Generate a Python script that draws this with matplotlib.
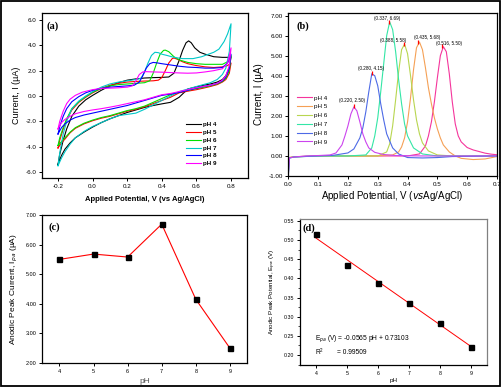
import numpy as np
import matplotlib
matplotlib.use("Agg")
import matplotlib.pyplot as plt
from matplotlib.patches import Rectangle

plt.rcParams['font.family'] = ['Liberation Sans', 'DejaVu Sans']
plt.rcParams['mathtext.fontset'] = 'custom'
plt.rcParams['mathtext.rm'] = 'Liberation Sans'

ph_labels = ["pH 4", "pH 5", "pH 6", "pH 7", "pH 8", "pH 9"]

# ---- (a) cyclic voltammograms: forward scans ----
ph4_fwd_v = [-0.2, -0.19, -0.17, -0.15, -0.12, -0.08, -0.04, 0.0, 0.05, 0.1, 0.15, 0.2, 0.25, 0.3, 0.35, 0.4, 0.44, 0.47, 0.5, 0.52, 0.54, 0.555, 0.57, 0.59, 0.62, 0.65, 0.7, 0.75, 0.78, 0.8]
ph4_fwd_i = [-5.4, -4.6, -3.5, -2.6, -1.6, -0.8, -0.3, 0.05, 0.45, 0.8, 1.05, 1.25, 1.35, 1.42, 1.45, 1.47, 1.5, 1.8, 2.8, 3.6, 4.2, 4.35, 4.2, 3.8, 3.45, 3.3, 3.1, 3.05, 3.05, 3.1]
ph5_fwd_v = [-0.2, -0.19, -0.17, -0.15, -0.12, -0.08, -0.04, 0.0, 0.05, 0.1, 0.15, 0.2, 0.25, 0.3, 0.35, 0.38, 0.4, 0.42, 0.44, 0.46, 0.47, 0.49, 0.52, 0.55, 0.6, 0.65, 0.7, 0.75, 0.78, 0.8]
ph5_fwd_i = [-4.1, -3.5, -2.6, -1.9, -1.1, -0.5, -0.1, 0.25, 0.6, 0.85, 1.0, 1.1, 1.15, 1.18, 1.2, 1.25, 1.45, 2.0, 2.6, 2.95, 3.0, 2.9, 2.7, 2.55, 2.4, 2.3, 2.25, 2.3, 2.4, 2.6]
ph6_fwd_v = [-0.2, -0.19, -0.17, -0.15, -0.12, -0.08, -0.04, 0.0, 0.05, 0.1, 0.15, 0.2, 0.25, 0.3, 0.33, 0.35, 0.37, 0.39, 0.41, 0.42, 0.44, 0.47, 0.5, 0.55, 0.6, 0.65, 0.7, 0.75, 0.78, 0.8]
ph6_fwd_i = [-3.9, -3.3, -2.5, -1.8, -1.0, -0.45, -0.05, 0.3, 0.6, 0.8, 0.9, 0.95, 1.0, 1.05, 1.2, 1.8, 2.6, 3.3, 3.6, 3.62, 3.5, 3.1, 2.85, 2.65, 2.55, 2.5, 2.5, 2.5, 2.7, 3.2]
ph7_fwd_v = [-0.2, -0.19, -0.17, -0.15, -0.12, -0.08, -0.04, 0.0, 0.05, 0.1, 0.15, 0.2, 0.25, 0.28, 0.3, 0.32, 0.34, 0.36, 0.38, 0.4, 0.43, 0.47, 0.52, 0.58, 0.63, 0.67, 0.7, 0.73, 0.76, 0.78, 0.8]
ph7_fwd_i = [-5.5, -4.5, -3.0, -2.0, -1.0, -0.4, 0.0, 0.35, 0.7, 0.95, 1.1, 1.2, 1.3, 1.4, 1.9, 2.6, 3.2, 3.45, 3.42, 3.3, 3.2, 3.05, 2.95, 2.95, 3.1, 3.3, 3.45, 3.7, 4.3, 4.9, 5.7]
ph8_fwd_v = [-0.2, -0.19, -0.17, -0.15, -0.12, -0.08, -0.04, 0.0, 0.05, 0.1, 0.15, 0.2, 0.24, 0.27, 0.29, 0.31, 0.33, 0.35, 0.37, 0.4, 0.45, 0.5, 0.55, 0.6, 0.65, 0.7, 0.75, 0.78, 0.8]
ph8_fwd_i = [-3.0, -2.4, -1.6, -1.0, -0.45, -0.05, 0.25, 0.45, 0.6, 0.7, 0.75, 0.8, 0.85, 1.1, 1.6, 2.2, 2.55, 2.65, 2.62, 2.55, 2.45, 2.35, 2.28, 2.25, 2.2, 2.2, 2.25, 2.6, 3.3]
ph9_fwd_v = [-0.2, -0.19, -0.17, -0.15, -0.13, -0.1, -0.06, 0.0, 0.05, 0.1, 0.15, 0.2, 0.23, 0.25, 0.27, 0.29, 0.31, 0.35, 0.4, 0.45, 0.5, 0.55, 0.6, 0.65, 0.7, 0.75, 0.78, 0.8]
ph9_fwd_i = [-2.6, -2.0, -1.2, -0.6, -0.25, 0.05, 0.3, 0.5, 0.6, 0.62, 0.65, 0.7, 0.8, 1.2, 1.7, 1.9, 1.92, 1.9, 1.88, 1.85, 1.82, 1.8, 1.82, 1.9, 2.0, 2.15, 2.6, 3.8]

# ---- (a) reverse scans on a shared potential grid ----
rev_v = [0.8, 0.79, 0.77, 0.75, 0.72, 0.68, 0.64, 0.6, 0.55, 0.5, 0.45, 0.4, 0.35, 0.3, 0.25, 0.2, 0.15, 0.1, 0.05, 0.0, -0.05, -0.1, -0.13, -0.16, -0.18, -0.2]
ph4_rev_i = [3.1, 2.2, 1.6, 1.3, 1.1, 0.95, 0.85, 0.72, 0.55, -0.1, -0.5, -0.62, -0.75, -0.9, -1.1, -1.3, -1.55, -1.8, -2.1, -2.45, -2.85, -3.3, -3.7, -4.2, -4.7, -5.4]
ph5_rev_i = [2.6, 1.8, 1.3, 1.1, 0.9, 0.75, 0.62, 0.5, 0.38, 0.25, -0.1, -0.35, -0.6, -0.85, -1.05, -1.2, -1.4, -1.6, -1.75, -1.95, -2.2, -2.55, -2.9, -3.4, -3.7, -4.1]
ph6_rev_i = [3.2, 2.0, 1.4, 1.15, 0.95, 0.8, 0.68, 0.58, 0.45, 0.3, 0.1, -0.2, -0.5, -0.8, -1.0, -1.15, -1.35, -1.55, -1.7, -1.9, -2.15, -2.5, -2.85, -3.3, -3.6, -3.9]
ph7_rev_i = [5.7, 3.5, 2.2, 1.7, 1.3, 1.05, 0.9, 0.75, 0.55, 0.35, 0.0, -0.35, -0.7, -1.05, -1.35, -1.45, -1.55, -1.8, -2.1, -2.4, -2.8, -3.3, -3.8, -4.4, -4.9, -5.5]
ph8_rev_i = [3.3, 2.2, 1.5, 1.2, 1.0, 0.85, 0.75, 0.62, 0.45, 0.28, 0.15, 0.05, -0.15, -0.35, -0.55, -0.75, -0.9, -1.05, -1.2, -1.35, -1.5, -1.7, -1.9, -2.2, -2.5, -3.0]
ph9_rev_i = [3.8, 2.4, 1.6, 1.25, 1.0, 0.85, 0.75, 0.65, 0.5, 0.35, 0.2, 0.1, -0.1, -0.3, -0.45, -0.6, -0.75, -0.88, -1.0, -1.1, -1.22, -1.4, -1.6, -1.85, -2.1, -2.6]

# ---- (b) differential pulse voltammograms ----
dpv4_v = [0.0, 0.004, 0.02, 0.1, 0.2, 0.3, 0.4, 0.44, 0.46, 0.47, 0.48, 0.49, 0.5, 0.51, 0.52, 0.53, 0.54, 0.55, 0.56, 0.57, 0.58, 0.6, 0.62, 0.64, 0.66, 0.68, 0.7]
dpv4_i = [-0.4, -0.08, -0.04, 0.0, 0.0, 0.0, 0.0, 0.1, 0.5, 1.0, 1.7, 2.7, 3.9, 5.0, 5.45, 5.2, 4.1, 2.7, 1.6, 1.0, 0.7, 0.42, 0.3, 0.22, 0.14, 0.09, 0.06]
dpv5_v = [0.0, 0.004, 0.02, 0.1, 0.2, 0.3, 0.35, 0.37, 0.38, 0.39, 0.4, 0.41, 0.42, 0.43, 0.44, 0.45, 0.46, 0.47, 0.48, 0.49, 0.5, 0.51, 0.52, 0.54, 0.56, 0.58, 0.62, 0.66, 0.7]
dpv5_i = [-0.4, -0.08, -0.04, 0.0, 0.0, 0.0, 0.05, 0.2, 0.45, 0.9, 1.7, 2.9, 4.3, 5.4, 5.68, 5.3, 4.4, 3.4, 2.6, 1.9, 1.35, 0.9, 0.55, 0.2, 0.0, -0.12, -0.18, -0.15, -0.03]
dpv6_v = [0.0, 0.004, 0.02, 0.1, 0.2, 0.3, 0.33, 0.34, 0.35, 0.36, 0.37, 0.38, 0.39, 0.4, 0.41, 0.42, 0.43, 0.44, 0.45, 0.47, 0.5, 0.55, 0.7]
dpv6_i = [-0.5, -0.08, -0.04, 0.0, 0.0, 0.0, 0.2, 0.6, 1.5, 2.8, 4.2, 5.3, 5.58, 5.1, 4.0, 2.8, 1.8, 1.1, 0.65, 0.25, 0.05, 0.0, 0.0]
dpv7_v = [0.0, 0.004, 0.02, 0.1, 0.2, 0.26, 0.28, 0.29, 0.3, 0.31, 0.32, 0.33, 0.34, 0.35, 0.36, 0.37, 0.38, 0.39, 0.4, 0.42, 0.45, 0.5, 0.7]
dpv7_i = [-1.0, -0.1, -0.05, 0.0, 0.0, 0.05, 0.4, 1.0, 1.9, 3.2, 4.6, 6.0, 6.69, 6.3, 5.2, 3.8, 2.6, 1.6, 1.0, 0.4, 0.1, 0.0, 0.0]
dpv8_v = [0.0, 0.004, 0.02, 0.1, 0.15, 0.2, 0.22, 0.24, 0.25, 0.26, 0.27, 0.28, 0.29, 0.3, 0.31, 0.32, 0.33, 0.35, 0.37, 0.4, 0.45, 0.5, 0.55, 0.7]
dpv8_i = [-0.9, -0.1, -0.05, 0.0, 0.03, 0.15, 0.35, 0.9, 1.4, 2.2, 3.2, 4.1, 4.0, 3.5, 2.6, 1.8, 1.1, 0.4, 0.1, -0.08, -0.1, -0.08, -0.03, 0.0]
dpv9_v = [0.0, 0.004, 0.02, 0.06, 0.1, 0.14, 0.16, 0.18, 0.19, 0.2, 0.21, 0.22, 0.23, 0.24, 0.25, 0.26, 0.27, 0.29, 0.32, 0.36, 0.45, 0.7]
dpv9_i = [-1.0, -0.1, -0.05, 0.0, 0.02, 0.05, 0.15, 0.55, 1.0, 1.5, 2.1, 2.45, 2.25, 1.7, 1.1, 0.7, 0.4, 0.18, 0.07, 0.02, 0.0, 0.0]

peak_v = [0.516, 0.435, 0.388, 0.337, 0.280, 0.220]
peak_i = [5.50, 5.68, 5.58, 6.69, 4.15, 2.50]

# ---- (c), (d) ----
ph_values = [4, 5, 6, 7, 8, 9]
epa_values = [0.516, 0.435, 0.388, 0.337, 0.283, 0.222]
fit_slope = -0.0565
fit_intercept = 0.73103

cv_colors = ["#000000", "#ff0000", "#00e000", "#00c8c8", "#0000ff", "#ff00ff"]
dpv_colors = ["#f5359c", "#f5a055", "#b8d650", "#33e6a6", "#4d6ae6", "#cc44ee"]

W, H = 503, 389
fig = plt.figure(figsize=(W / 100, H / 100), dpi=100)


def px_axes(l, t, r, b):
    return fig.add_axes([l / W, 1 - b / H, (r - l) / W, (b - t) / H])


def style(ax, size=4.5):
    ax.tick_params(direction="out", length=2.5, width=0.7, labelsize=size, pad=1.5,
                   top=False, right=False)
    for s in ax.spines.values():
        s.set_linewidth(0.9)


serif_bold = dict(family="Liberation Serif", fontweight="bold", fontsize=7.5)

# ---- panel (a) ----
ax_a = px_axes(42, 13, 248, 178)
fwd = [(ph4_fwd_v, ph4_fwd_i), (ph5_fwd_v, ph5_fwd_i), (ph6_fwd_v, ph6_fwd_i),
       (ph7_fwd_v, ph7_fwd_i), (ph8_fwd_v, ph8_fwd_i), (ph9_fwd_v, ph9_fwd_i)]
rev = [ph4_rev_i, ph5_rev_i, ph6_rev_i, ph7_rev_i, ph8_rev_i, ph9_rev_i]
for (fv, fi), ri, c, lab in zip(fwd, rev, cv_colors, ph_labels):
    ax_a.plot(list(fv) + rev_v, list(fi) + ri, color=c, lw=0.8, label=lab)
ax_a.set_xlim(-0.2925, 0.898)
ax_a.set_ylim(-6.47, 6.55)
ax_a.set_xticks([-0.2, 0.0, 0.2, 0.4, 0.6, 0.8])
ax_a.set_xticklabels(["-0.2", "0.0", "0.2", "0.4", "0.6", "0.8"])
ax_a.set_yticks([-6, -4, -2, 0, 2, 4, 6])
ax_a.set_yticklabels(["-6.0", "-4.0", "-2.0", "0.0", "2.0", "4.0", "6.0"])
style(ax_a)
ax_a.set_xlabel("Applied Potential, V (vs Ag/AgCl)", fontsize=5.5, fontweight="bold", labelpad=5)
ax_a.set_ylabel("Current, I (µA)", fontsize=6.5, labelpad=3)
ax_a.text(0.02, 0.95, "(a)", transform=ax_a.transAxes, va="top", ha="left", **serif_bold)
ax_a.legend(loc="center left", bbox_to_anchor=(0.70, 0.205), frameon=False,
            handlelength=2.4, handletextpad=0.3, labelspacing=0.38,
            borderpad=0, borderaxespad=0, prop=dict(weight="bold", size=4.5))

# ---- panel (b) ----
ax_b = px_axes(288.3, 13, 497, 176)
dpv = [(dpv4_v, dpv4_i), (dpv5_v, dpv5_i), (dpv6_v, dpv6_i),
       (dpv7_v, dpv7_i), (dpv8_v, dpv8_i), (dpv9_v, dpv9_i)]
for (v, i), c, lab in zip(dpv, dpv_colors, ph_labels):
    ax_b.plot(v, i, color=c, lw=0.8, label=lab)
ax_b.plot(peak_v, peak_i, ls="none", marker="|", color="red", markersize=3.5, mew=0.9)
label_dx = [0.024, 0.031, -0.035, -0.004, -0.003, -0.007]
label_dy = [0.12, 0.24, 0.2, 0.18, 0.22, 0.28]
for x, y, dx, dy in zip(peak_v, peak_i, label_dx, label_dy):
    ax_b.text(x + dx, y + dy, "(%.3f, %.2f)" % (x, y), fontsize=3.3, ha="center", va="center")
ax_b.set_xlim(0, 0.7)
ax_b.set_ylim(-1.0, 7.13)
ax_b.set_xticks(np.arange(0, 0.71, 0.1))
ax_b.set_xticklabels(["0.0", "0.1", "0.2", "0.3", "0.4", "0.5", "0.6", "0.7"])
ax_b.set_yticks(np.arange(-1, 7.1, 1))
ax_b.set_yticklabels(["%.2f" % t for t in np.arange(-1, 7.1, 1)])
style(ax_b)
ax_b.set_xlabel("Applied Potential, V ($\\it{vs}$Ag/AgCl)", fontsize=7, labelpad=1.5)
ax_b.set_ylabel("Current, I (µA)", fontsize=7, labelpad=3)
ax_b.text(0.04, 0.95, "(b)", transform=ax_b.transAxes, va="top", ha="left", **serif_bold)
ax_b.legend(loc="center left", bbox_to_anchor=(0.042, 0.344), frameon=False,
            fontsize=4.5, handlelength=2.4, handletextpad=0.3, labelspacing=0.55,
            borderpad=0, borderaxespad=0)

# ---- panel (c) ----
ax_c = px_axes(42, 215, 247, 363)
ax_c.plot(ph_values, peak_i, color="red", lw=0.8, marker="s", markersize=3.6,
          markerfacecolor="black", markeredgecolor="black")
ax_c.set_xlim(3.49, 9.5)
ax_c.set_ylim(2.0, 7.0)
ax_c.set_xticks(ph_values)
ax_c.set_yticks([2, 3, 4, 5, 6, 7])
ax_c.set_yticklabels(["2.00", "3.00", "4.00", "5.00", "6.00", "7.00"])
style(ax_c, 4)
ax_c.set_xlabel("pH", fontsize=6, color="#555555", labelpad=3)
ax_c.set_ylabel("Anodic Peak Current, I$_{pa}$ (µA)", fontsize=6, labelpad=4)
ax_c.text(0.03, 0.95, "(c)", transform=ax_c.transAxes, va="top", ha="left", **serif_bold)

# ---- panel (d) ----
ax_d = px_axes(300, 219, 487, 365)
fit_x = np.array([ph_values[0], ph_values[-1]])
ax_d.plot(fit_x, fit_slope * fit_x + fit_intercept, color="red", lw=0.7)
ax_d.plot(ph_values, epa_values, ls="none", marker="s", markersize=3.6, color="black")
ax_d.set_xlim(3.48, 9.52)
ax_d.set_ylim(0.174, 0.555)
ax_d.set_xticks(ph_values)
ax_d.set_yticks(np.arange(0.20, 0.551, 0.05))
ax_d.set_yticklabels(["%.2f" % t for t in np.arange(0.20, 0.551, 0.05)])
ax_d.set_yticks(np.arange(0.175, 0.555, 0.05), minor=True)
style(ax_d, 3.8)
ax_d.tick_params(which="minor", direction="out", length=1.3, width=0.5)
ax_d.spines["top"].set_color("#808080")
ax_d.spines["right"].set_color("#808080")
ax_d.set_xlabel("pH", fontsize=4.5, labelpad=2)
ax_d.set_ylabel("Anodic Peak Potential, E$_{pa}$ (V)", fontsize=4.5, labelpad=4)
ax_d.text(0.015, 0.97, "(d)", transform=ax_d.transAxes, va="top", ha="left", **serif_bold)
ax_d.text(0.08, 0.178, "E$_{pa}$ (V) = -0.0565 pH + 0.73103", transform=ax_d.transAxes,
          fontsize=4.8, va="center")
ax_d.text(0.08, 0.089, "R$^2$", transform=ax_d.transAxes, fontsize=4.8, va="center")
ax_d.text(0.20, 0.089, "= 0.99509", transform=ax_d.transAxes, fontsize=4.8, va="center")

# outer frame
fig.patches.append(Rectangle((1 / W, 1 - 386 / H), 499 / W, 385 / H, transform=fig.transFigure,
                             fill=False, lw=1.3, edgecolor="black"))

fig.savefig("out.png", dpi=100)
